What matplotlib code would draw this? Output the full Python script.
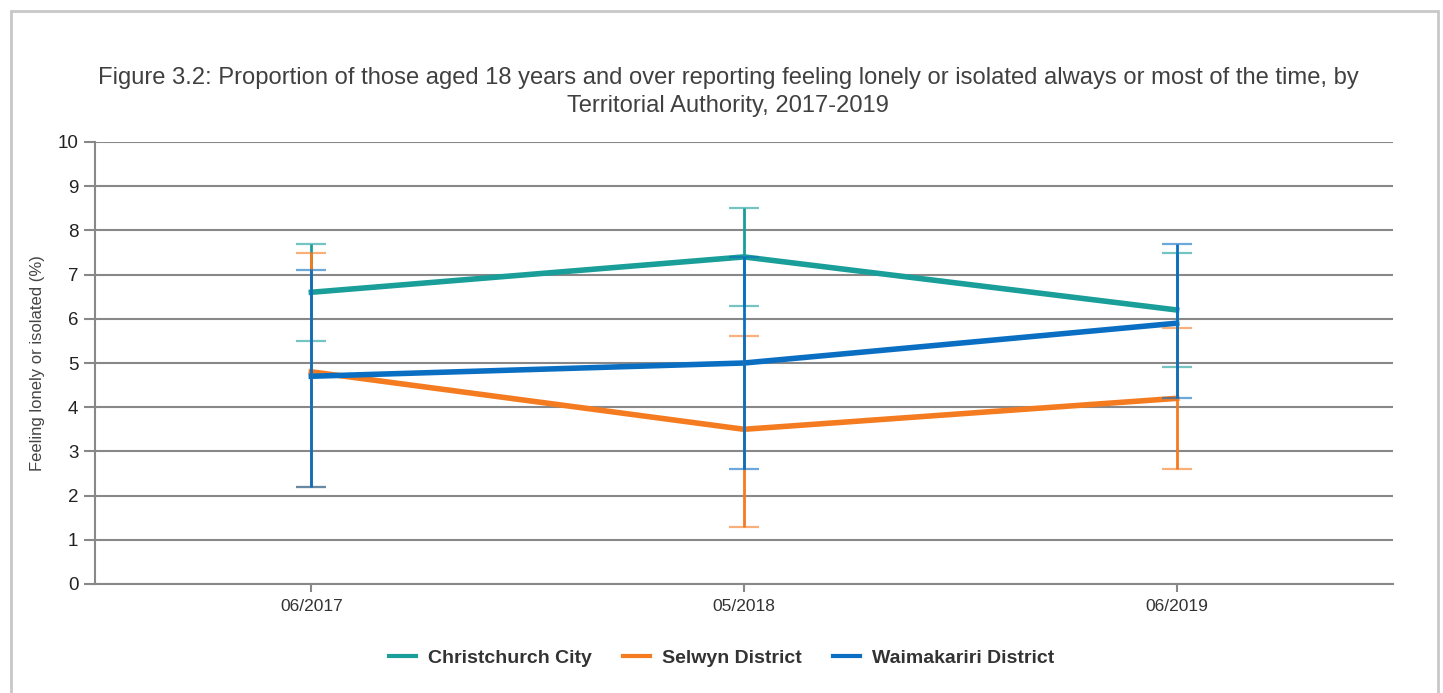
import numpy as np
import matplotlib.pyplot as plt
from matplotlib.patches import Rectangle

plt.rcParams['font.family'] = ['Liberation Sans', 'DejaVu Sans']

periods = ['06/2017', '05/2018', '06/2019']
series = ['Christchurch City', 'Selwyn District', 'Waimakariri District']
colors = ['#1a9e9a', '#f47b20', '#0a6fc2']

christchurch = [6.6, 7.4, 6.2]
christchurch_lo = [5.5, 6.3, 4.9]
christchurch_hi = [7.7, 8.5, 7.5]

selwyn = [4.8, 3.5, 4.2]
selwyn_lo = [2.2, 1.3, 2.6]
selwyn_hi = [7.5, 5.6, 5.8]

waimakariri = [4.7, 5.0, 5.9]
waimakariri_lo = [2.2, 2.6, 4.2]
waimakariri_hi = [7.1, 7.4, 7.7]

values = [christchurch, selwyn, waimakariri]
lows = [christchurch_lo, selwyn_lo, waimakariri_lo]
highs = [christchurch_hi, selwyn_hi, waimakariri_hi]

fig = plt.figure(figsize=(14.43, 6.93), dpi=100)
ax = fig.add_axes([95 / 1443, 1 - 584 / 693, 1298 / 1443, 442 / 693])

# outer frame
fig.patches.append(Rectangle((11 / 1443, -0.1), 1427 / 1443, 1.1 - 11 / 693,
                             transform=fig.transFigure, fill=False,
                             edgecolor='#c8c8c8', linewidth=2))

x = np.arange(len(periods))
for v, c, name in zip(values, colors, series):
    ax.plot(x, v, color=c, linewidth=4, label=name, zorder=3)

for v, lo, hi, c in zip(values, lows, highs, colors):
    v = np.array(v)
    err = [v - np.array(lo), np.array(hi) - v]
    _, caps, _ = ax.errorbar(x, v, yerr=err, fmt='none', ecolor=c, elinewidth=2,
                             capsize=11, capthick=1.6, zorder=4)
    for cap in caps:
        cap.set_alpha(0.6)

ax.set_xlim(-0.5, 2.5)
ax.set_ylim(0, 10)
ax.set_yticks(range(0, 11))
ax.set_xticks(x)
ax.set_xticklabels(periods)
ax.tick_params(axis='y', labelsize=13.5, colors='#888888', length=8, width=1.5, pad=4)
for lab in ax.get_yticklabels():
    lab.set_color('#222222')
ax.tick_params(axis='x', labelsize=12.5, colors='#888888', length=6, width=1.5, pad=5)
for lab in ax.get_xticklabels():
    lab.set_color('#333333')

ax.grid(axis='y', color='#888888', linewidth=1.5)
ax.set_axisbelow(True)
for s in ['top', 'right']:
    ax.spines[s].set_visible(False)
for s in ['left', 'bottom']:
    ax.spines[s].set_color('#888888')
    ax.spines[s].set_linewidth(1.5)

ax.set_ylabel('Feeling lonely or isolated (%)', fontsize=12, color='#444444', labelpad=9)

fig.text(0.5045, 1 - 92 / 693,
         'Figure 3.2: Proportion of those aged 18 years and over reporting feeling lonely or isolated always or most of the time, by\nTerritorial Authority, 2017-2019',
         ha='center', va='center', fontsize=17.1, color='#404040', linespacing=1.32)

leg = fig.legend(loc='center', bbox_to_anchor=(0.5, 1 - 658 / 693), ncol=3,
                 frameon=False, handlelength=1.4, columnspacing=1.6,
                 handletextpad=0.6, prop={'size': 14, 'weight': 'bold'})
for h in leg.legend_handles:
    h.set_linewidth(3)
for t in leg.get_texts():
    t.set_color('#333333')

fig.savefig('out.png', dpi=100)
